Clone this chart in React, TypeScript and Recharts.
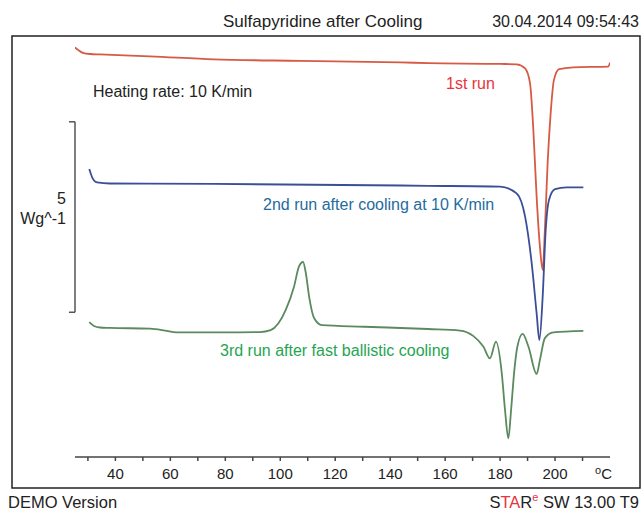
import React from "react";
import { LineChart, Line, XAxis, YAxis, ReferenceLine } from "recharts";

const FONT = "'Liberation Sans', Arial, Helvetica, sans-serif";

// temperatures (°C) and heat flow (W/g, offset per run)
const run1T = [25.3, 28.2, 30.8, 34.4, 52.6, 75.9, 107.2, 143.6, 153.8, 180.0, 186.0, 189.1, 190.9, 192.1, 193.3, 194.5, 195.5, 196.3, 197.3, 198.4, 199.6, 201.5, 206.6, 219.4, 220.0];
const run1V = [10.75, 10.61, 10.58, 10.57, 10.52, 10.44, 10.4, 10.36, 10.34, 10.32, 10.31, 10.2, 9.81, 8.59, 6.83, 5.52, 4.91, 5.96, 7.71, 9.02, 9.9, 10.18, 10.23, 10.25, 10.36];

const run2T = [30.5, 31.5, 33.3, 38.0, 75.9, 153.8, 180.0, 186.0, 189.1, 191.5, 193.3, 194.3, 195.5, 196.6, 197.8, 200.0, 204.2, 210.3];
const run2V = [7.56, 7.35, 7.21, 7.18, 7.17, 7.12, 7.1, 6.92, 6.31, 5.09, 3.77, 3.07, 4.21, 5.96, 6.75, 7.03, 7.08, 7.08];

const run3T = [30.5, 32.2, 34.4, 38.0, 52.6, 58.1, 62.3, 78.1, 92.6, 96.5, 102.0, 105.0, 106.8, 108.3, 109.3, 110.5, 112.3, 115.2, 130.5, 153.8, 165.4, 170.2, 173.9, 176.3, 178.5, 180.6, 181.8, 183.0, 184.0, 185.1, 186.3, 188.2, 190.3, 193.3, 194.5, 196.3, 199.4, 210.3];
const run3V = [3.54, 3.44, 3.4, 3.39, 3.37, 3.32, 3.27, 3.27, 3.28, 3.33, 3.86, 4.47, 5.0, 5.12, 4.83, 4.21, 3.65, 3.46, 3.42, 3.36, 3.32, 3.18, 2.9, 2.59, 3.03, 2.21, 1.23, 0.49, 1.23, 2.21, 2.9, 3.23, 2.9, 2.18, 2.55, 3.12, 3.27, 3.31];

const xTicks = [30, 40, 50, 60, 70, 80, 90, 100, 110, 120, 130, 140, 150, 160, 170, 180, 190, 200, 210];

// 5 W/g scale bracket
const scaleBarX = 25.3;
const scaleBarLow = 3.8;
const scaleBarHigh = 8.8;

const toPoints = (ts: number[], vs: number[]) => ts.map((t, i) => ({ t, v: vs[i] }));

export default function App() {
  const run1 = toPoints(run1T, run1V);
  const run2 = toPoints(run2T, run2V);
  const run3 = toPoints(run3T, run3V);

  return (
    <div style={{ position: "absolute", left: 0, top: 0, width: 642, height: 513, background: "#fff", fontFamily: FONT }}>
      <svg width={642} height={513} style={{ position: "absolute", left: 0, top: 0 }}>
        <rect x={12} y={36} width={628} height={452} fill="none" stroke="#222" strokeWidth={1.5} />
        <g fontFamily={FONT} fill="#222">
          <text x={223} y={26.5} fontSize={17}>Sulfapyridine after Cooling</text>
          <text x={639} y={26.5} fontSize={16} textAnchor="end">30.04.2014 09:54:43</text>
          <text x={93} y={96.7} fontSize={16}>Heating rate: 10 K/min</text>
          <text x={66} y={203.5} fontSize={16} textAnchor="end">5</text>
          <text x={66} y={224} fontSize={16} textAnchor="end">Wg^-1</text>
          <text x={446} y={89.3} fontSize={16} fill="#e8343c">1st run</text>
          <text x={263} y={210} fontSize={16} fill="#1f6c9e">2nd run after cooling at 10 K/min</text>
          <text x={220} y={356} fontSize={16} fill="#1fa552">3rd run after fast ballistic cooling</text>
          <text x={595} y={479} fontSize={15}>
            <tspan fontSize={11} dy={-5}>o</tspan>
            <tspan dy={5}>C</tspan>
          </text>
          <text x={8} y={508} fontSize={16.5}>DEMO Version</text>
          <text x={639} y={508} fontSize={16.5} textAnchor="end">
            S<tspan fill="#e8343c">TA</tspan>R<tspan fontSize={11} dy={-7} fill="#e8343c">e</tspan>
            <tspan dy={7}> SW 13.00 T9</tspan>
          </text>
        </g>
      </svg>
      <div style={{ position: "absolute", left: 0, top: 0 }}>
        <LineChart width={642} height={513} margin={{ top: 38, right: 32, bottom: 26, left: 75 }}>
          <XAxis
            type="number"
            dataKey="t"
            domain={[25.3, 220]}
            ticks={xTicks}
            allowDataOverflow
            height={30}
            tickSize={4}
            tickMargin={7}
            interval={0}
            tickFormatter={(v) => (v % 20 === 0 ? String(v) : "")}
            stroke="#444"
            strokeWidth={1.5}
            tick={{ fill: "#222", fontSize: 15, fontFamily: FONT }}
          />
          <YAxis type="number" dataKey="v" domain={[0, 11]} hide width={0} allowDataOverflow />
          <ReferenceLine
            segment={[{ x: scaleBarX, y: scaleBarLow }, { x: scaleBarX, y: scaleBarHigh }]}
            stroke="#555"
            strokeWidth={1.5}
            ifOverflow="visible"
          />
          <ReferenceLine
            segment={[{ x: scaleBarX - 2.2, y: scaleBarHigh }, { x: scaleBarX, y: scaleBarHigh }]}
            stroke="#555"
            strokeWidth={1.5}
            ifOverflow="visible"
          />
          <ReferenceLine
            segment={[{ x: scaleBarX - 2.2, y: scaleBarLow }, { x: scaleBarX, y: scaleBarLow }]}
            stroke="#555"
            strokeWidth={1.5}
            ifOverflow="visible"
          />
          <Line data={run1} dataKey="v" type="monotone" stroke="#d65a45" strokeWidth={1.8} dot={false} isAnimationActive={false} />
          <Line data={run2} dataKey="v" type="monotone" stroke="#3b4f96" strokeWidth={1.8} dot={false} isAnimationActive={false} />
          <Line data={run3} dataKey="v" type="monotone" stroke="#5a8a5e" strokeWidth={1.8} dot={false} isAnimationActive={false} />
        </LineChart>
      </div>
    </div>
  );
}
